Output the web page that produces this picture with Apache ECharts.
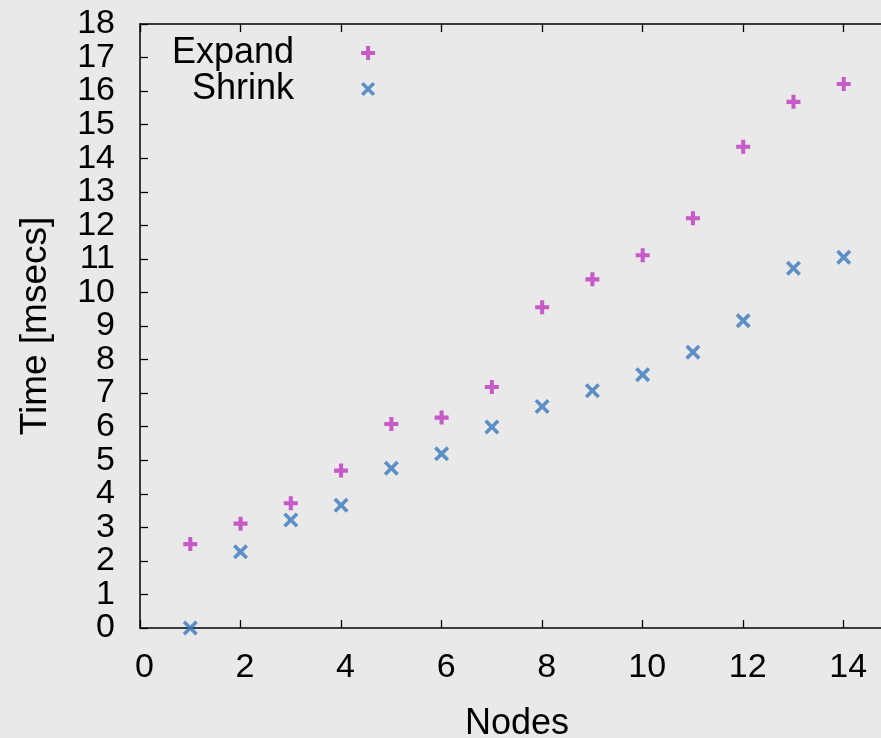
<!DOCTYPE html>
<html>
<head>
<meta charset="utf-8">
<script src="https://cdn.jsdelivr.net/npm/echarts@6/dist/echarts.min.js"></script>
<style>
html,body{margin:0;padding:0;background:#e9e9e9;overflow:hidden;}
#chart{width:900px;height:738px;}
</style>
</head>
<body>
<div id="chart"></div>
<script>
const nodes = [1, 2, 3, 4, 5, 6, 7, 8, 9, 10, 11, 12, 13, 14];
const expandTimes = [2.50, 3.11, 3.72, 4.69, 6.08, 6.27, 7.18, 9.56, 10.39, 11.11, 12.21, 14.34, 15.68, 16.21];
const shrinkTimes = [0.00, 2.27, 3.22, 3.66, 4.76, 5.19, 5.99, 6.60, 7.07, 7.55, 8.22, 9.16, 10.72, 11.05];
const xTicks = [0, 2, 4, 6, 8, 10, 12, 14];
const yTicks = [0, 1, 2, 3, 4, 5, 6, 7, 8, 9, 10, 11, 12, 13, 14, 15, 16, 17, 18];
const seriesNames = ['Expand', 'Shrink'];
const xName = 'Nodes';
const yName = 'Time [msecs]';

const PLUS = 'path://M3.55,0H6.45V3.55H10V6.45H6.45V10H3.55V6.45H0V3.55H3.55Z';
const CROSS = 'path://M0,1.7L1.7,0L5,3.3L8.3,0L10,1.7L6.7,5L10,8.3L8.3,10L5,6.7L1.7,10L0,8.3L3.3,5Z';
const MAGENTA = '#bd36bd';
const BLUE = '#3778bd';
const FONT = '"Liberation Sans", Arial, Helvetica, sans-serif';

const chart = echarts.init(document.getElementById('chart'), null, {renderer: 'canvas'});
const axisLine = {show: true, onZero: false, lineStyle: {color: '#000', width: 1.5}};
const tick = {show: true, inside: true, length: 8, lineStyle: {color: '#000', width: 1.3}};
const yLabelBase = {fontFamily: FONT, fontSize: 34, color: '#000', margin: 25,
  showMinLabel: true, showMaxLabel: true, hideOverlap: false};
const evenY = yTicks.filter(v => v % 2 === 0);
const oddY = yTicks.filter(v => v % 2 === 1);
const option = {
  backgroundColor: '#e9e9e9',
  animation: false,
  textStyle: {fontFamily: FONT},
  grid: {left: 140, top: 24, right: 6, bottom: 110, containLabel: false, outerBoundsMode: 'none'},
  legend: {
    orient: 'vertical',
    left: 172,
    top: 35,
    padding: 0,
    itemGap: 0,
    itemWidth: 14,
    itemHeight: 14,
    align: 'right',
    selectedMode: false,
    textStyle: {fontFamily: FONT, fontSize: 36, color: '#000', lineHeight: 36, padding: [0, 62, 0, 0]},
    data: [
      {name: seriesNames[0], icon: PLUS, itemStyle: {color: MAGENTA}},
      {name: seriesNames[1], icon: CROSS, itemStyle: {color: BLUE}}
    ]
  },
  xAxis: [{
    type: 'value', min: 0, max: 15, interval: 2,
    name: xName, nameLocation: 'middle', nameGap: 78,
    nameTextStyle: {fontFamily: FONT, fontSize: 36, color: '#000'},
    axisLine: axisLine,
    axisTick: tick,
    axisLabel: {fontFamily: FONT, fontSize: 34, color: '#000', margin: 23,
      showMinLabel: true, showMaxLabel: false, padding: [0, 0, 0, 9],
      formatter: v => xTicks.includes(v) ? String(v) : ''},
    splitLine: {show: false}
  }, {
    type: 'value', min: 0, max: 15, interval: 2, position: 'top',
    axisLine: axisLine,
    axisTick: tick,
    axisLabel: {show: false},
    splitLine: {show: false}
  }],
  yAxis: [{
    type: 'value', min: 0, max: 18, interval: 1, position: 'left',
    name: yName, nameLocation: 'middle', nameGap: 86, nameRotate: 90,
    nameTextStyle: {fontFamily: FONT, fontSize: 37, color: '#000'},
    axisLine: axisLine,
    axisTick: Object.assign({customValues: yTicks}, tick),
    axisLabel: Object.assign({customValues: evenY}, yLabelBase),
    splitLine: {show: false}
  }, {
    type: 'value', min: 0, max: 18, interval: 1, position: 'left', offset: 0,
    axisLine: {show: false},
    axisTick: {show: false},
    axisLabel: Object.assign({customValues: oddY}, yLabelBase),
    splitLine: {show: false}
  }],
  series: [{
    name: seriesNames[0], type: 'scatter', symbol: PLUS, symbolSize: 14,
    itemStyle: {color: MAGENTA},
    data: nodes.map((n, i) => [n, expandTimes[i]]),
    clip: false, z: 3
  }, {
    name: seriesNames[1], type: 'scatter', symbol: CROSS, symbolSize: 15,
    itemStyle: {color: BLUE},
    data: nodes.map((n, i) => [n, shrinkTimes[i]]),
    clip: false, z: 3
  }]
};
chart.setOption(option);
</script>
</body>
</html>
